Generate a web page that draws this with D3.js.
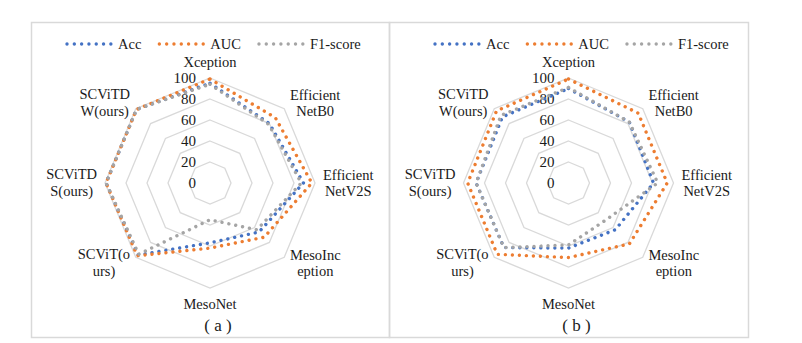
<!DOCTYPE html>
<html>
<head>
<meta charset="utf-8">
<script src="https://cdn.jsdelivr.net/npm/d3@7"></script>
<style>
  body { margin: 0; background: #fff; }
  text { font-family: "Liberation Serif", "Times New Roman", serif; fill: #1a1a1a; }
</style>
</head>
<body>
<svg id="chart" width="802" height="343"></svg>
<script>
const categories = ["Xception", "Efficient\nNetB0", "Efficient\nNetV2S", "MesoInc\neption",
    "MesoNet", "SCViT(o\nurs)", "SCViTD\nS(ours)", "SCViTD\nW(ours)"];
const tickValues = [0, 20, 40, 60, 80, 100];
const seriesNames = ["Acc", "AUC", "F1-score"];
const seriesColors = ["#4472C4", "#ED7D31", "#A5A5A5"];

// panel (a)
const accA = [95, 80, 89, 66, 57, 97, 99, 99];
const aucA = [99, 88, 97, 73, 62, 98, 99, 99];
const f1A  = [94, 79, 87, 63, 35, 96, 99, 99];
// panel (b)
const accB = [90, 82, 81, 63, 62, 87, 88, 89];
const aucB = [99, 94, 94, 82, 71, 96, 96, 97];
const f1B  = [91, 82, 85, 50, 59, 87, 88, 91];

const captions = ["( a )", "( b )"];

const panels = [
    {left: 31, right: 389, legendX: 67, series: [accA, aucA, f1A]},
    {left: 389, right: 748, legendX: 435, series: [accB, aucB, f1B]}
];

const svg = d3.select('#chart');
const cy = 183;
const R = 105;

let r = d3.scaleLinear().domain([0, 100]).range([0, R]);
let angle = d3.scaleLinear().domain([0, categories.length]).range([0, 2 * Math.PI]);

let radial = d3.lineRadial()
    .angle((d, i) => angle(i))
    .radius((d) => r(d))
    .curve(d3.curveLinearClosed);

panels.forEach((p, pi) => {
    const cx = (p.left + p.right) / 2;

    svg.append('rect')
        .attr('x', p.left + 0.5).attr('y', 22.5)
        .attr('width', p.right - p.left).attr('height', 315)
        .attr('fill', 'none')
        .attr('stroke', '#D9D9D9')
        .attr('stroke-width', 1.5);

    let g = svg.append('g').attr('transform', `translate(${cx},${cy})`);

    // grid rings
    tickValues.filter((t) => t > 0).forEach((t) => {
        g.append('path')
            .attr('d', radial(categories.map(() => t)))
            .attr('fill', 'none')
            .attr('stroke', '#D9D9D9')
            .attr('stroke-width', 1.3);
    });

    // tick labels
    g.selectAll('.tick')
        .data(tickValues)
        .enter()
        .append('text')
        .attr('x', -14)
        .attr('y', (d) => -r(d))
        .attr('dy', '0.35em')
        .attr('text-anchor', 'end')
        .style('font-size', '15px')
        .text((d) => d);

    // category labels
    categories.forEach((c, i) => {
        const a = angle(i);
        const s = Math.sin(a), co = Math.cos(a);
        const lines = c.split('\n');
        let t = g.append('text').attr('text-anchor', 'middle').style('font-size', '14.5px');
        lines.forEach((l, li) => {
            t.append('tspan').attr('x', 0).attr('dy', li == 0 ? 0 : 16.5).text(l);
        });
        const bb = t.node().getBBox();
        let px = (R + 8) * s;
        let py = -(R + 8) * co;
        if (Math.abs(s) > 0.1) px += Math.sign(s) * bb.width / 2;
        else py += (co > 0 ? -1 : 1) * bb.height / 2;
        // vertical centre of the block
        const shiftY = py - (bb.y + bb.height / 2);
        t.attr('transform', `translate(${px},${shiftY})`);
    });

    // series
    p.series.forEach((vals, si) => {
        g.append('path')
            .attr('d', radial(vals))
            .attr('fill', 'none')
            .attr('stroke', seriesColors[si])
            .attr('stroke-width', 3.4)
            .attr('stroke-linecap', 'round')
            .attr('stroke-dasharray', '0.01 7');
    });

    // legend
    let lx = p.legendX;
    seriesNames.forEach((name, si) => {
        svg.append('line')
            .attr('x1', lx).attr('x2', lx + 44)
            .attr('y1', 44).attr('y2', 44)
            .attr('stroke', seriesColors[si])
            .attr('stroke-width', 3.4)
            .attr('stroke-linecap', 'round')
            .attr('stroke-dasharray', '0.01 7.3');
        let txt = svg.append('text')
            .attr('x', lx + 51).attr('y', 44).attr('dy', '0.35em')
            .style('font-size', '14.5px')
            .text(name);
        lx += 51 + txt.node().getComputedTextLength() + 18;
    });

    svg.append('text')
        .attr('x', cx + 8).attr('y', 325).attr('dy', '0.35em')
        .attr('text-anchor', 'middle')
        .style('font-size', '17px')
        .style('white-space', 'pre')
        .text(captions[pi]);
});
</script>
</body>
</html>
